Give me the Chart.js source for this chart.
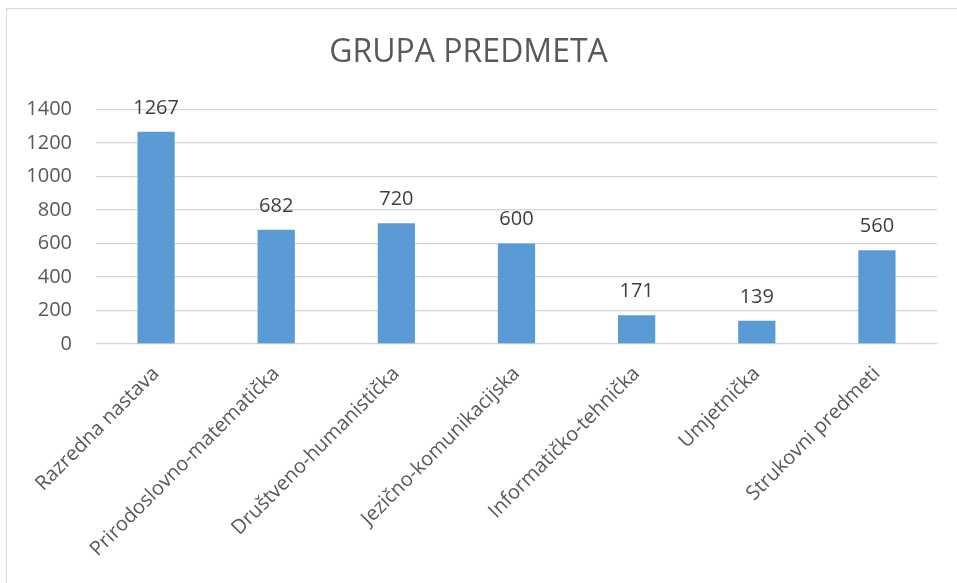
<!DOCTYPE html>
<html>
<head>
  <meta charset="utf-8">
  <title>Grupa predmeta</title>
  <style>
    html, body {
      margin: 0;
      padding: 0;
      background: #fff;
      overflow: hidden;
    }
    #frame {
      position: absolute;
      left: 6px;
      top: 8px;
      width: 980px;
      height: 620px;
      border: 1px solid #d9d9d9;
      box-sizing: border-box;
    }
    #wrap {
      position: absolute;
      left: 0;
      top: 0;
      width: 957px;
      height: 583px;
    }
  </style>
</head>
<body>
  <div id="frame"></div>
  <div id="wrap"><canvas id="chart"></canvas></div>

  <script src="https://cdn.jsdelivr.net/npm/chart.js"></script>
  <script>
    const categories = [
      'Razredna nastava',
      'Prirodoslovno-matematička',
      'Društveno-humanistička',
      'Jezično-komunikacijska',
      'Informatičko-tehnička',
      'Umjetnička',
      'Strukovni predmeti'
    ];
    const values = [1267, 682, 720, 600, 171, 139, 560];
    const yTicks = [0, 200, 400, 600, 800, 1000, 1200, 1400];

    const textColor = '#595959';
    const font = '"Open Sans", "DejaVu Sans", sans-serif';

    // value labels above each bar
    const valueLabels = {
      id: 'valueLabels',
      afterDatasetsDraw(chart) {
        const ctx = chart.ctx;
        const meta = chart.getDatasetMeta(0);
        ctx.save();
        ctx.font = '20px ' + font;
        ctx.fillStyle = '#404040';
        ctx.textAlign = 'center';
        ctx.textBaseline = 'alphabetic';
        meta.data.forEach((bar, i) => {
          ctx.fillText(values[i], bar.x, bar.y - 18);
        });
        ctx.restore();
      }
    };

    new Chart(document.getElementById('chart'), {
      type: 'bar',
      data: {
        labels: categories,
        datasets: [{
          data: values,
          backgroundColor: '#5b9bd5',
          borderWidth: 0,
          categoryPercentage: 1,
          barPercentage: 0.31
        }]
      },
      options: {
        responsive: true,
        maintainAspectRatio: false,
        animation: false,
        layout: { padding: { left: 0, right: 20, top: 0, bottom: 0 } },
        plugins: {
          legend: { display: false },
          tooltip: { enabled: false },
          title: {
            display: true,
            text: 'GRUPA PREDMETA',
            color: textColor,
            font: { family: font, size: 32, weight: 'normal', lineHeight: 1.2 },
            padding: { top: 34, bottom: 37 }
          }
        },
        scales: {
          x: {
            grid: { display: false, drawTicks: false },
            border: { display: false },
            ticks: {
              color: textColor,
              font: { family: font, size: 20 },
              maxRotation: 45,
              minRotation: 45,
              padding: 18
            },
            afterFit(scale) {
              scale.height = 239;
              scale.paddingLeft = 0;
              scale.paddingRight = 0;
            }
          },
          y: {
            min: 0,
            max: 1400,
            afterBuildTicks(scale) {
              scale.ticks = yTicks.map(v => ({ value: v }));
            },
            grid: { color: '#d4d4d4', lineWidth: 1.3, drawTicks: false },
            border: { display: false },
            ticks: {
              color: textColor,
              font: { family: font, size: 20 },
              padding: 24,
              callback: v => String(v)
            },
            afterFit(scale) {
              scale.width = 96;
              scale.paddingTop = 0;
              scale.paddingBottom = 0;
            }
          }
        }
      },
      plugins: [valueLabels]
    });
  </script>
</body>
</html>
